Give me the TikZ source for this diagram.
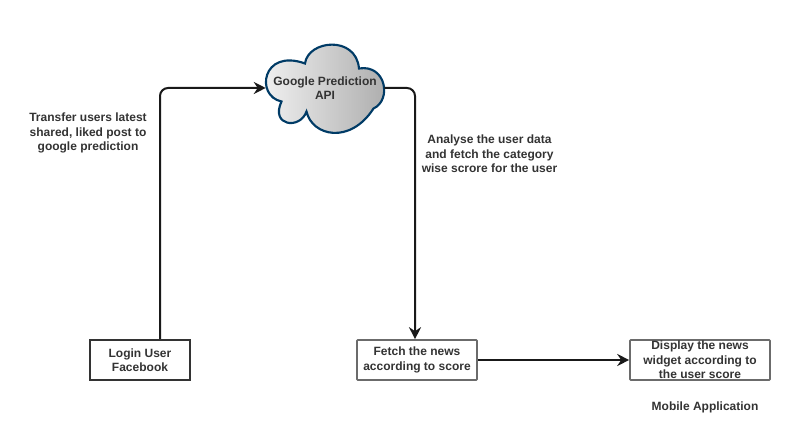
\documentclass[tikz,border=0pt]{standalone}
\usepackage{fontspec}
\setmainfont{Liberation Sans}
\usetikzlibrary{arrows.meta,calc}
\definecolor{cloudline}{HTML}{003B66}
\tikzset{
 lbl/.style={align=center,font=\fontsize{9pt}{10.8pt}\selectfont\bfseries,text=black!80,inner sep=0pt},
 boxdark/.style={lbl,draw=black!80,line width=1.6pt,minimum width=75pt,minimum height=30pt,inner sep=0pt},
 boxgray/.style={lbl,draw=black!58,line width=1.2pt,minimum height=30pt,inner sep=0pt,rounded corners=0.5pt},
 conn/.style={draw=black!90,line width=1.5pt,rounded corners=6pt,-{Stealth[length=9pt,width=9pt,inset=3pt]}},
}
\begin{document}
\begin{tikzpicture}[x=0.75pt,y=-0.75pt]
\useasboundingbox (0,0) rectangle (798,434);
\path[left color=black!4,right color=black!33,draw=cloudline,line width=1.6pt]
 (305,63.5) .. controls (308,40) and (356,35) .. (359,68.5)
 .. controls (386,64) and (392,100) .. (373.5,108.5)
 .. controls (350,145) and (312,136) .. (306.5,111.5)
 .. controls (300,130) and (270,126) .. (281.5,101.5)
 .. controls (255,96) and (262,48) .. (305,63.5) -- cycle;
\node[lbl,minimum width=88.5pt] (cloud) at (325,88) {Google Prediction\\API};
\node[boxdark] (login) at (140,360) {Login User\\Facebook};
\node[boxgray,minimum width=90pt] (fetch) at (417,360) {Fetch the news\\according to score};
\node[boxgray,minimum width=105pt] (display) at (700,360) {Display the news\\widget according to\\the user score};
\node[lbl] (t1) at (88,133) {Transfer users latest\\shared, liked post to\\google prediction};
\node[lbl] (t2) at (489.5,154) {Analyse the user data\\and fetch the category\\wise scrore for the user};
\node[lbl] (t3) at (705,407) {Mobile Application};
\draw[conn] ($(login.north)+(20,0)$) |- (cloud.west);
\draw[conn] (cloud.east) -| ($(fetch.north)+(-2,0)$);
\draw[conn] (fetch.east) -- (display.west);
\end{tikzpicture}
\end{document}
